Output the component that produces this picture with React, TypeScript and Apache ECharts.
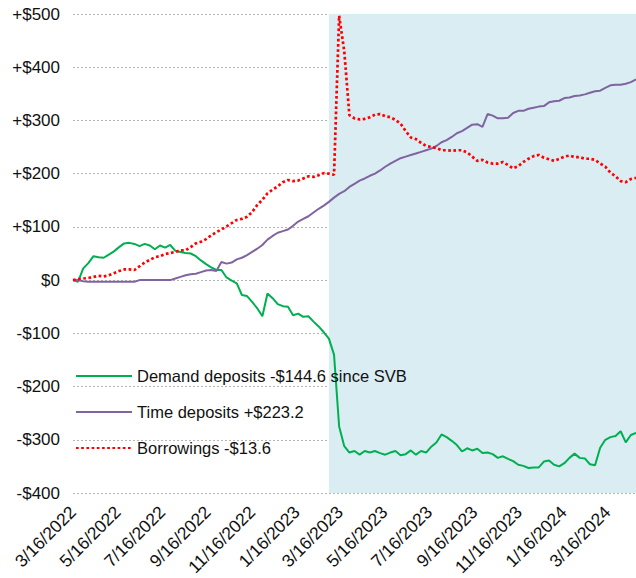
import React, { useEffect, useRef } from 'react';
import * as echarts from 'echarts';

// Weekly H.8 observations (Wednesdays) starting 3/16/2022, change since start, $bn
const demandDeposits = [
  0, -3, 22, 32, 45, 43, 42, 48, 54, 62,
  69, 70, 68, 64, 68, 65, 58, 65, 61, 66,
  55, 53, 51, 50, 45, 37, 30, 24, 19, 19,
  5, -1, -6, -28, -30, -41, -53, -68, -25, -34,
  -45, -49, -50, -66, -63, -69, -68, -78, -87, -98,
  -110, -140, -275, -312, -324, -321, -328, -321, -324, -321,
  -325, -328, -324, -321, -329, -327, -320, -328, -321, -324,
  -313, -305, -290, -295, -302, -310, -322, -316, -320, -317,
  -325, -324, -327, -334, -331, -336, -340, -347, -349, -353,
  -352, -352, -341, -339, -347, -350, -344, -334, -326, -334,
  -335, -346, -348, -315, -300, -295, -293, -284, -305, -291,
  -287,
];

const timeDeposits = [
  0, 0, -2, -3, -3, -3, -3, -3, -3, -3,
  -3, -3, -3, 0, 0, 0, 0, 0, 0, 0,
  3, 6, 9, 11, 12, 15, 18, 19, 17, 34,
  31, 33, 39, 42, 47, 53, 59, 66, 76, 83,
  89, 92, 95, 102, 110, 115, 120, 127, 134, 140,
  147, 155, 162, 167, 175, 181, 187, 191, 196, 200,
  206, 213, 219, 224, 229, 232, 235, 238, 241, 244,
  247, 252, 259, 263, 269, 276, 280, 286, 292, 293,
  288, 312, 309, 304, 304, 305, 314, 318, 318, 322,
  324, 326, 327, 334, 336, 337, 342, 343, 346, 347,
  349, 352, 355, 356, 361, 366, 367, 367, 369, 372,
  377,
];

const borrowings = [
  0, 2, 3, 4, 6, 8, 7, 9, 13, 17,
  20, 20, 19, 26, 33, 38, 43, 45, 49, 51,
  53, 56, 56, 62, 69, 72, 77, 84, 90, 95,
  101, 107, 113, 115, 119, 128, 141, 151, 163, 170,
  176, 184, 188, 186, 187, 191, 195, 194, 197, 201,
  200, 198, 497, 430, 310, 304, 302, 303, 306, 311,
  312, 308, 306, 301, 294, 280, 268, 265, 258, 252,
  250, 248, 244, 244, 243, 244, 244, 240, 232, 224,
  226, 221, 219, 219, 222, 216, 210, 214, 222, 228,
  233, 235, 230, 227, 224, 228, 232, 234, 231, 231,
  228, 228, 226, 219, 213, 202, 195, 186, 184, 190,
  192,
];

const tickLabels = [
  '3/16/2022', '5/16/2022', '7/16/2022', '9/16/2022', '11/16/2022',
  '1/16/2023', '3/16/2023', '5/16/2023', '7/16/2023', '9/16/2023',
  '11/16/2023', '1/16/2024', '3/16/2024',
];

const seriesNames = [
  'Demand deposits -$144.6 since SVB',
  'Time deposits +$223.2',
  'Borrowings -$13.6',
];

const SHADE_START = '3/1/2023';

const parseMDY = (s: string) => {
  const [m, d, y] = s.split('/').map(Number);
  return new Date(y, m - 1, d).getTime();
};

const weekDates = demandDeposits.map((_, i) => new Date(2022, 2, 16 + 7 * i).getTime());
const tickValues = tickLabels.map(parseMDY);

const FONT = '"Liberation Sans", Arial, sans-serif';

export default function App() {
  const ref = useRef<HTMLDivElement>(null);
  useEffect(() => {
    if (!ref.current) return;
    const chart = echarts.init(ref.current, undefined, { renderer: 'svg' });
    const pair = (arr: number[]) => arr.map((v, i) => [weekDates[i], v]);
    const last = weekDates[weekDates.length - 1];
    chart.setOption({
      animation: false,
      backgroundColor: '#fff',
      grid: { left: 73, right: 0, top: 14, bottom: 85, containLabel: false, outerBoundsMode: 'none' },
      xAxis: {
        type: 'value',
        min: weekDates[0],
        max: last,
        scale: true,
        axisLine: { show: false },
        axisTick: { show: false },
        splitLine: { show: false },
        axisLabel: {
          customValues: tickValues,
          rotate: 45,
          fontSize: 17.5,
          fontFamily: FONT,
          color: '#111',
          margin: 16,
          hideOverlap: false,
          formatter: (v: number) => {
            const i = tickValues.indexOf(v);
            if (i >= 0) return tickLabels[i];
            const d = new Date(v);
            return `${d.getMonth() + 1}/${d.getDate()}/${d.getFullYear()}`;
          },
        },
      },
      yAxis: {
        type: 'value',
        min: -400,
        max: 500,
        interval: 100,
        axisLine: { show: false },
        axisTick: { show: false },
        splitLine: { lineStyle: { type: [2, 2], color: '#b5b5b5', width: 1 } },
        axisLabel: {
          fontSize: 17,
          fontFamily: FONT,
          color: '#111',
          margin: 13,
          formatter: (v: number) => (v > 0 ? `+$${v}` : v === 0 ? '$0' : `-$${Math.abs(v)}`),
        },
      },
      legend: {
        orient: 'vertical',
        left: 70,
        top: 362,
        itemWidth: 56,
        itemHeight: 14,
        itemGap: 18,
        data: seriesNames,
        itemStyle: { opacity: 0 },
        textStyle: { fontSize: 16.5, fontFamily: FONT, color: '#111', lineHeight: 18 },
      },
      series: [
        {
          name: 'shade',
          type: 'line',
          data: [],
          z: 1,
          silent: true,
          markArea: {
            silent: true,
            itemStyle: { color: '#DAEDF3', opacity: 1 },
            data: [[{ xAxis: parseMDY(SHADE_START) }, { xAxis: last }]],
          },
        },
        {
          name: seriesNames[0],
          type: 'line',
          data: pair(demandDeposits),
          symbol: 'none',
          z: 3,
          lineStyle: { color: '#00B050', width: 2 },
          itemStyle: { color: '#00B050' },
        },
        {
          name: seriesNames[1],
          type: 'line',
          data: pair(timeDeposits),
          symbol: 'none',
          z: 3,
          lineStyle: { color: '#8064A2', width: 2 },
          itemStyle: { color: '#8064A2' },
        },
        {
          name: seriesNames[2],
          type: 'line',
          data: pair(borrowings),
          symbol: 'none',
          z: 4,
          lineStyle: { color: '#FF0000', width: 2.7, type: [2.7, 2.5] },
          itemStyle: { color: '#FF0000' },
        },
      ],
    });
    return () => chart.dispose();
  }, []);
  return (
    <div
      ref={ref}
      style={{ position: 'fixed', left: 0, top: 0, width: 636, height: 578 }}
    />
  );
}
